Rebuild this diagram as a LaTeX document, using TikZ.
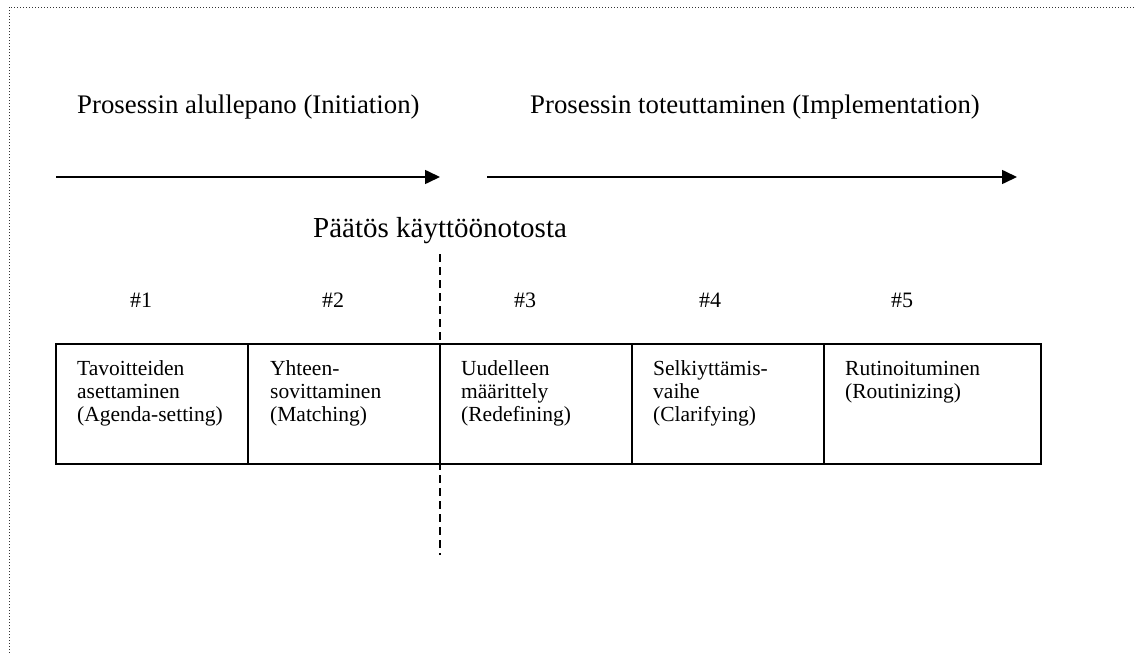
\documentclass[tikz,border=0pt]{standalone}
\usepackage{fontspec}
\setmainfont{Liberation Serif}
\usetikzlibrary{arrows.meta}
\begin{document}
\begin{tikzpicture}[x=1pt,y=-1pt,
  hdr/.style={anchor=base west,inner sep=0pt,font=\fontsize{26.8}{30}\selectfont},
  dec/.style={anchor=base west,inner sep=0pt,font=\fontsize{29}{32}\selectfont},
  hash/.style={anchor=base,inner sep=0pt,font=\fontsize{22}{25}\selectfont},
  cell/.style={draw,line width=1.6pt,minimum height=120pt,inner sep=0pt},
  celltext/.style={anchor=base west,inner sep=0pt,font=\fontsize{21.5}{23}\selectfont},
  phase/.style={line width=1.6pt,-{Triangle[length=15pt,width=14pt]}},
  border/.style={line width=1pt,dash pattern=on 1pt off 2pt,black!80}]
\useasboundingbox (0,0) rectangle (1135,653);
% dotted frame (top and left edges visible)
\draw[border] (9,653) -- (9,7) -- (1135,7);
% headers
\node[hdr] (init) at (77,113) {Prosessin alullepano (Initiation)};
\node[hdr] (impl) at (530,113) {Prosessin toteuttaminen (Implementation)};
% arrows
\coordinate (a1s) at (56,177);
\coordinate (a1e) at (440,177);
\coordinate (a2s) at (487,177);
\coordinate (a2e) at (1017,177);
\draw[phase] (a1s) -- (a1e);
\draw[phase] (a2s) -- (a2e);
% decision
\node[dec] (decision) at (313,237) {Päätös käyttöönotosta};
% hashes
\node[hash] (h1) at (141,307) {\#1};
\node[hash] (h2) at (333,307) {\#2};
\node[hash] (h3) at (525,307) {\#3};
\node[hash] (h4) at (710,307) {\#4};
\node[hash] (h5) at (902,307) {\#5};
% cells
\node[cell,minimum width=192pt] (c1) at (152,404) {};
\node[cell,minimum width=192pt] (c2) at (344,404) {};
\node[cell,minimum width=192pt] (c3) at (536,404) {};
\node[cell,minimum width=192pt] (c4) at (728,404) {};
\node[cell,minimum width=217pt] (c5) at (932.5,404) {};
% cell texts
\node[celltext] (t1) at (77,375) {\parbox[t]{170pt}{\raggedright Tavoitteiden\\asettaminen\\(Agenda-setting)}};
\node[celltext] (t2) at (270,375) {\parbox[t]{170pt}{\raggedright Yhteen-\\sovittaminen\\(Matching)}};
\node[celltext] (t3) at (461,375) {\parbox[t]{170pt}{\raggedright Uudelleen\\määrittely\\(Redefining)}};
\node[celltext] (t4) at (653,375) {\parbox[t]{170pt}{\raggedright Selkiyttämis-\\vaihe\\(Clarifying)}};
\node[celltext] (t5) at (845,375) {\parbox[t]{190pt}{\raggedright Rutinoituminen\\(Routinizing)}};
% decision line
\coordinate (dtop) at (440,254);
\coordinate (dbot) at (440,555);
\draw[line width=1.6pt,dash pattern=on 8pt off 5pt] (dtop) -- (dbot);
\end{tikzpicture}
\end{document}
